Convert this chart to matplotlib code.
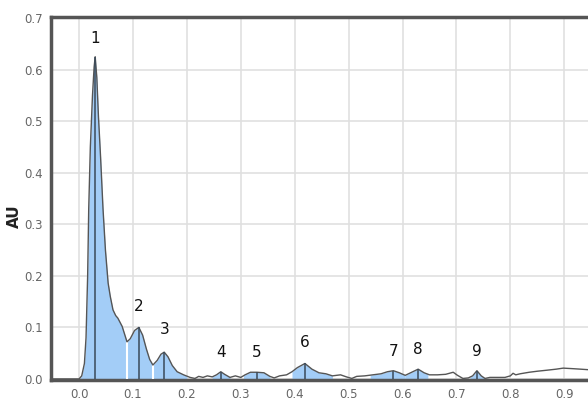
import numpy as np
import matplotlib
matplotlib.use("Agg")
import matplotlib.pyplot as plt

# trace
x = [-0.052, 0.0, 0.005, 0.010, 0.013, 0.016, 0.018, 0.021, 0.025, 0.028, 0.030,
     0.033, 0.036, 0.040, 0.0445, 0.049, 0.054, 0.058, 0.063, 0.068, 0.072, 0.080,
     0.089, 0.095, 0.103, 0.111, 0.118, 0.125, 0.131, 0.137, 0.145, 0.152, 0.158,
     0.165, 0.173, 0.182, 0.194, 0.206, 0.215, 0.222, 0.230, 0.238, 0.247, 0.255,
     0.263, 0.270, 0.280, 0.290, 0.300, 0.308, 0.318, 0.330, 0.343, 0.354, 0.362,
     0.372, 0.385, 0.395, 0.405, 0.419, 0.432, 0.445, 0.458, 0.470, 0.485, 0.496,
     0.506, 0.515, 0.530, 0.545, 0.560, 0.572, 0.583, 0.594, 0.605, 0.617, 0.629,
     0.640, 0.650, 0.665, 0.680, 0.694, 0.702, 0.712, 0.722, 0.730, 0.738, 0.746,
     0.753, 0.762, 0.775, 0.790, 0.800, 0.805, 0.810, 0.818, 0.835, 0.850, 0.868,
     0.885, 0.898, 0.915, 0.930, 0.944]
y = [0.0, 0.0, 0.006, 0.03, 0.08, 0.2, 0.33, 0.45, 0.55, 0.605, 0.625,
     0.585, 0.51, 0.43, 0.33, 0.25, 0.186, 0.16, 0.134, 0.123, 0.118, 0.102,
     0.072, 0.078, 0.094, 0.100, 0.085, 0.058, 0.038, 0.027, 0.036, 0.048, 0.052,
     0.043, 0.026, 0.014, 0.008, 0.003, 0.001, 0.005, 0.003, 0.006, 0.004, 0.008,
     0.014, 0.009, 0.003, 0.006, 0.003, 0.008, 0.013, 0.013, 0.012, 0.005, 0.002,
     0.006, 0.008, 0.014, 0.022, 0.030, 0.019, 0.012, 0.010, 0.006, 0.008, 0.004,
     0.001, 0.005, 0.006, 0.008, 0.010, 0.014, 0.016, 0.012, 0.007, 0.013, 0.019,
     0.012, 0.008, 0.008, 0.009, 0.013, 0.007, 0.001, 0.002, 0.006, 0.016, 0.006,
     0.001, 0.003, 0.003, 0.003, 0.006, 0.011, 0.008, 0.010, 0.013, 0.015, 0.017,
     0.019, 0.021, 0.020, 0.019, 0.018]

# integrated peak windows (start, end) and apex positions
peak_labels = ["1", "2", "3", "4", "5", "6", "7", "8", "9"]
peak_start = [0.0, 0.089, 0.137, 0.247, 0.305, 0.395, 0.540, 0.605, 0.725]
peak_end = [0.089, 0.137, 0.200, 0.280, 0.354, 0.470, 0.605, 0.647, 0.753]
peak_x = [0.030, 0.111, 0.158, 0.263, 0.330, 0.419, 0.583, 0.629, 0.738]
label_y = [0.66, 0.14, 0.095, 0.052, 0.052, 0.070, 0.054, 0.058, 0.054]

xa = np.array(x)
ya = np.array(y)

fig = plt.figure(figsize=(5.88, 4.01), dpi=100)
ax = fig.add_axes([0.0867, 0.0524, 0.9133, 0.9052])

for s, e in zip(peak_start, peak_end):
    m = (xa >= s) & (xa <= e)
    xs = np.concatenate([[s], xa[m], [e]])
    ys = np.interp(xs, xa, ya)
    ax.fill_between(xs, 0, ys, color="#a3cdf7", lw=0, zorder=2)

# white separators between neighbouring peaks
for xv in [0.089, 0.137]:
    ax.vlines(xv, 0, np.interp(xv, xa, ya), color="white", lw=1.5, zorder=3)

ax.plot(xa, ya, color="#555555", lw=1.0, zorder=4)

for px, lab, ly in zip(peak_x, peak_labels, label_y):
    ax.vlines(px, 0, np.interp(px, xa, ya), color="#3a4a5a", lw=1.1, zorder=5)
    ax.text(px, ly, lab, ha="center", va="center", fontsize=11,
            color="#111111")

ax.set_xlim(-0.052, 0.944)
ax.set_ylim(-0.002, 0.702)
ax.set_xticks(np.arange(0, 1.0, 0.1))
ax.set_xticklabels(["%.1f" % v for v in np.arange(0, 1.0, 0.1)])
ax.set_yticks(np.arange(0, 0.71, 0.1))
ax.set_yticklabels(["%.1f" % v for v in np.arange(0, 0.71, 0.1)])
ax.tick_params(length=0, labelsize=8.5, labelcolor="#666666", pad=6)
ax.grid(True, color="#e0e0e0", lw=1.2, zorder=0)
ax.set_axisbelow(True)

for side in ["left", "top", "bottom"]:
    ax.spines[side].set_color("#555555")
    ax.spines[side].set_linewidth(2.5)
ax.spines["right"].set_visible(False)

ax.set_ylabel("AU", fontsize=11, fontweight="bold", color="#222222", labelpad=4)
ax.yaxis.set_label_coords(-0.055, 0.45)

fig.savefig("out.png", dpi=100)
